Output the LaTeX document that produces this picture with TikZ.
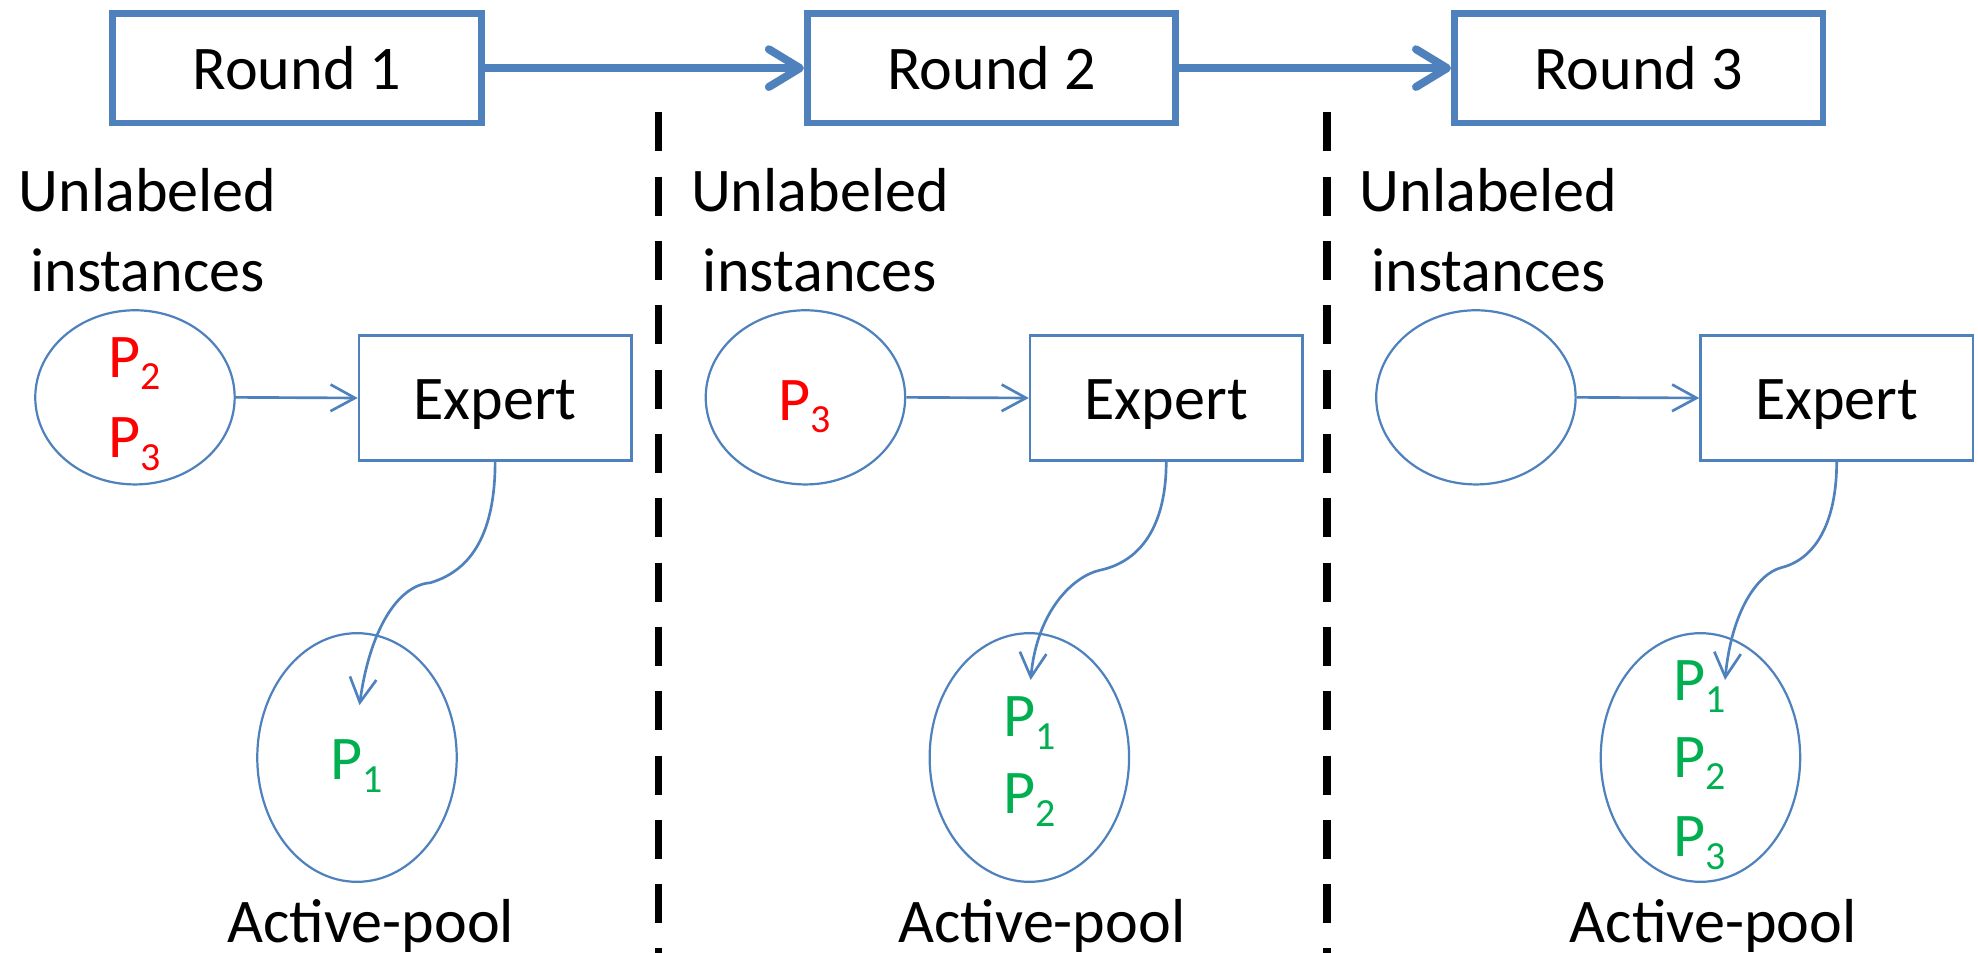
\documentclass[tikz,border=0pt]{standalone}
\usepackage{fontspec}
\setmainfont{Carlito}
\usetikzlibrary{arrows.meta,shapes.geometric}
\definecolor{ablue}{RGB}{79,129,189}
\definecolor{pred}{RGB}{255,0,0}
\definecolor{pgreen}{RGB}{0,176,80}
\newcommand{\pitem}[1]{P\raisebox{-2.85pt}{\fontsize{9}{9}\selectfont #1}}
\begin{document}
\begin{tikzpicture}[x=0.01cm,y=-0.01cm,
  mainfont/.style={font=\fontsize{14}{17}\selectfont},
  roundbox/.style={draw=ablue, line width=1.5pt, minimum width=2.92cm, minimum height=0.87cm,
    inner sep=0pt, text height=9.6pt, text depth=0pt, mainfont},
  expertbox/.style={draw=ablue, line width=0.5pt, minimum width=2.16cm, minimum height=0.99cm,
    inner sep=0pt, text height=9.6pt, text depth=0pt, mainfont},
  uell/.style={ellipse, draw=ablue, line width=0.5pt, minimum width=1.58cm, minimum height=1.38cm, inner sep=0pt},
  aell/.style={ellipse, draw=ablue, line width=0.5pt, minimum width=1.58cm, minimum height=1.97cm, inner sep=0pt},
  lbl/.style={mainfont, inner sep=0pt, anchor=base},
  pr/.style={mainfont, text=pred, inner sep=0pt, anchor=base},
  pg/.style={mainfont, text=pgreen, inner sep=0pt, anchor=base},
  bigarrow/.style={draw=ablue, line width=1.8pt, -{Straight Barb[length=7pt,width=8.5pt,round]}},
  thinarrow/.style={draw=ablue, line width=0.6pt, -{Straight Barb[length=5.5pt,width=6pt]}},
  sepline/.style={draw=black, line width=1.7pt, dash pattern=on 8.8pt off 5.7pt}
]
\useasboundingbox (0,0) rectangle (1568,755);

% separators
\draw[sepline] (522,89) -- (522,760);
\draw[sepline] (1052,89) -- (1052,760);

% rounds
\node[roundbox] (r1) at (235.5,54) {Round 1};
\node[roundbox] (r2) at (786,54) {Round 2};
\node[roundbox] (r3) at (1299,54) {Round 3};
\draw[bigarrow] (r1) -- (r2);
\draw[bigarrow] (r2) -- (r3);

% labels
\node[lbl] (u1a) at (117,168) {Unlabeled};
\node[lbl] (u1b) at (117,231) {instances};
\node[lbl] (u2a) at (650,168) {Unlabeled};
\node[lbl] (u2b) at (650,231) {instances};
\node[lbl] (u3a) at (1180,168) {Unlabeled};
\node[lbl] (u3b) at (1180,231) {instances};

% unlabeled pools
\node[uell] (ue1) at (107,315) {};
\node[uell] (ue2) at (638.5,315) {};
\node[uell] (ue3) at (1170,315) {};

% experts
\node[expertbox] (ex1) at (392.5,315.5) {Expert};
\node[expertbox] (ex2) at (924.5,315.5) {Expert};
\node[expertbox] (ex3) at (1456,315.5) {Expert};

\draw[thinarrow] (ue1.east) -- (ex1.west);
\draw[thinarrow] (ue2.east) -- (ex2.west);
\draw[thinarrow] (ue3.east) -- (ex3.west);

% active pools
\node[aell] (ap1) at (283,600.5) {};
\node[aell] (ap2) at (816,600.5) {};
\node[aell] (ap3) at (1348,600.5) {};

\node[lbl] (al1) at (294,747) {Active-pool};
\node[lbl] (al2) at (826,747) {Active-pool};
\node[lbl] (al3) at (1358,747) {Active-pool};

% curved connectors
\coordinate (k1) at (341,462);
\coordinate (t1) at (285,559);
\coordinate (k2) at (872,452);
\coordinate (t2) at (817,539);
\coordinate (k3) at (1412,450);
\coordinate (t3) at (1367.5,539);
\draw[thinarrow] (ex1.south) .. controls +(0,55) and +(34,-10) .. (k1) .. controls +(-26,2) and +(8,-59) .. (t1);
\draw[thinarrow] (ex2.south) .. controls +(0,50) and +(33,-7) .. (k2) .. controls +(-22,5) and +(5,-54) .. (t2);
\draw[thinarrow] (ex3.south) .. controls +(0,47) and +(28,-7) .. (k3) .. controls +(-19,5) and +(5,-54) .. (t3);

% items
\node[pr] (p12) at (106.5,299) {\pitem{2}};
\node[pr] (p13) at (106.5,363) {\pitem{3}};
\node[pr] (p23) at (638,333) {\pitem{3}};
\node[pg] (a11) at (283,618) {\pitem{1}};
\node[pg] (a21) at (816,584) {\pitem{1}};
\node[pg] (a22) at (816,645) {\pitem{2}};
\node[pg] (a31) at (1347,555) {\pitem{1}};
\node[pg] (a32) at (1347,616) {\pitem{2}};
\node[pg] (a33) at (1347,679) {\pitem{3}};
\end{tikzpicture}
\end{document}
